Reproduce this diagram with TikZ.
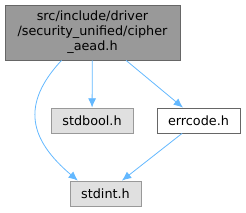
\documentclass[tikz,border=0pt]{standalone}
\usepackage{fontspec}
\setmainfont{DejaVu Sans}
\usetikzlibrary{positioning,calc,arrows.meta}
\definecolor{edgeblue}{HTML}{63B8FF}
\definecolor{curfill}{HTML}{999999}
\definecolor{curline}{HTML}{666666}
\definecolor{sysfill}{HTML}{E0E0E0}
\definecolor{sysline}{HTML}{999999}

\begin{document}
\begin{tikzpicture}[x=0.75pt,y=-0.75pt,
  font=\fontsize{9.6}{11.25}\selectfont,
  filebox/.style={draw,inner sep=0pt,minimum height=18.75pt,line width=0.6pt},
  sysbox/.style={filebox,fill=sysfill,draw=sysline},
  dep/.style={-{Latex[length=7pt,width=6pt]},edgeblue,line width=0.6pt}]
\useasboundingbox (0,0) rectangle (246,212);
\node[filebox,fill=curfill,draw=curline,minimum width=131.25pt,minimum height=41.25pt,align=center] (cur) at (92.5,32.5) {src/include/driver\\/security\_unified/cipher\\\_aead.h};
\node[sysbox,minimum width=61.5pt] (stdbool) at (92,120.5) {stdbool.h};
\node[filebox,fill=white,draw=curline,minimum width=62.25pt] (errcode) at (198.5,120.5) {errcode.h};
\node[sysbox,minimum width=53.25pt] (stdint) at (105.5,193.5) {stdint.h};
\draw[dep] (cur.222) .. controls (20,105) and (30,140) .. (stdint.155);
\draw[dep] (cur) -- (stdbool);
\draw[dep] (cur) -- (errcode);
\draw[dep] (errcode) -- (stdint);
\end{tikzpicture}
\end{document}
